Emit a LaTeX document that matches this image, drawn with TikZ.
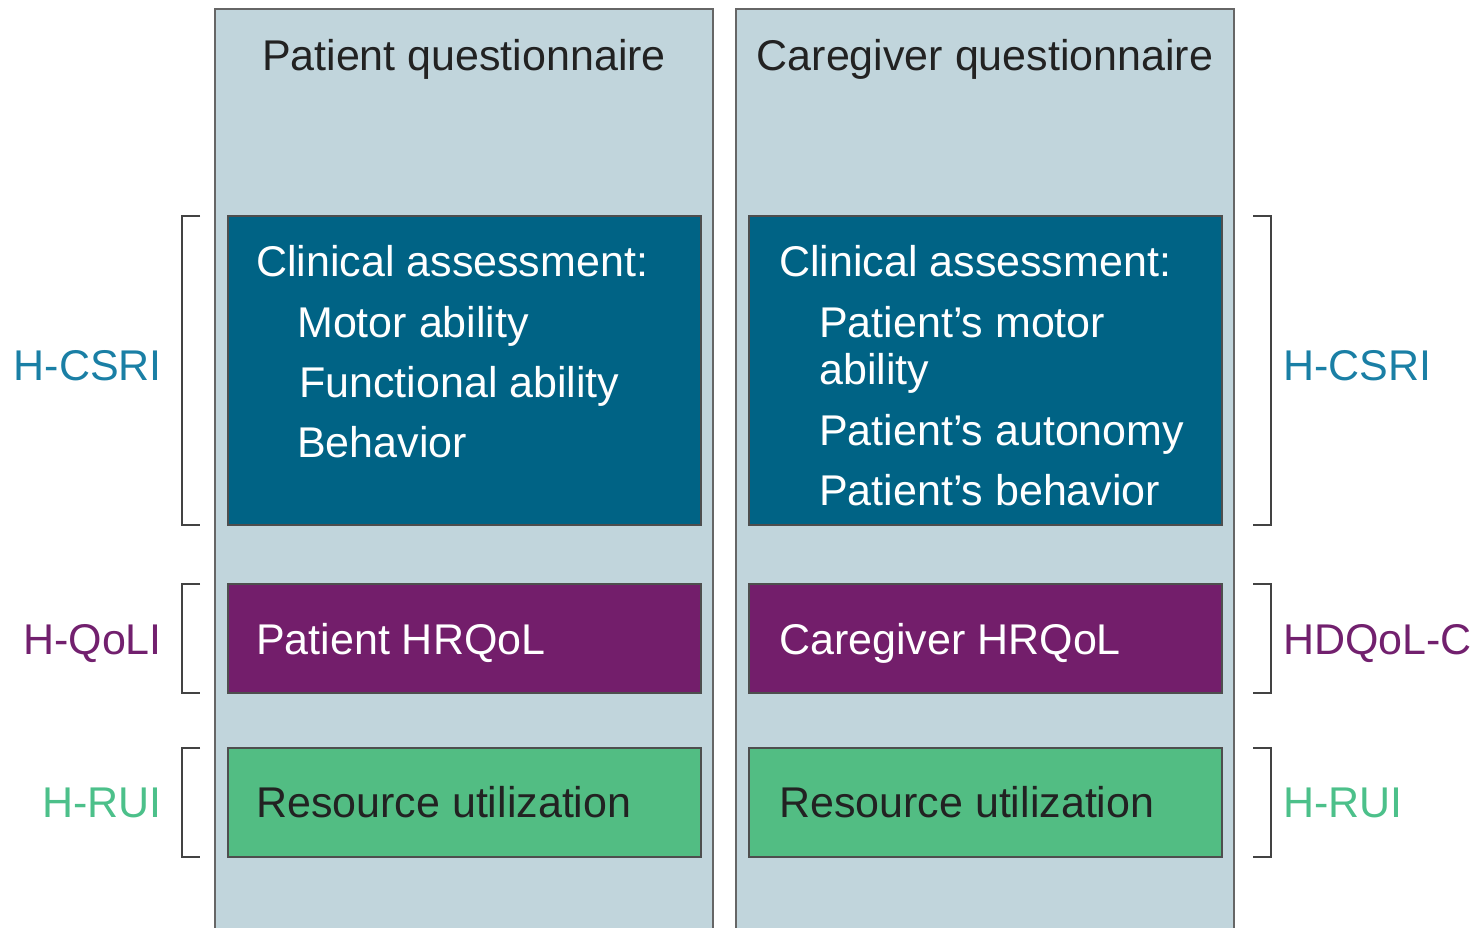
\documentclass[tikz,border=0pt]{standalone}
\usepackage{fontspec}
\setmainfont{Liberation Sans}
\definecolor{colfill}{HTML}{C1D5DC}
\definecolor{colline}{HTML}{666666}
\definecolor{teal}{HTML}{006385}
\definecolor{purp}{HTML}{731E6B}
\definecolor{grn}{HTML}{52BD83}
\definecolor{lteal}{HTML}{1A7FA5}
\definecolor{lpurp}{HTML}{72206E}
\definecolor{lgrn}{HTML}{4CC08A}
\definecolor{ink}{HTML}{222222}
\begin{document}
\begin{tikzpicture}[x=1pt,y=-1pt,
  txt/.style={font=\fontsize{43}{48}\selectfont, inner sep=0pt, anchor=base west},
  rtxt/.style={font=\fontsize{43}{48}\selectfont, inner sep=0pt, anchor=base east},
  boxbase/.style={draw=ink!80, line width=1.6pt, inner sep=0pt, outer sep=0pt, anchor=north west, minimum width=473pt},
  bracket/.style={draw=ink!85, line width=1.6pt}
]
\useasboundingbox (0,0) rectangle (1479,928);
% columns
\path[fill=colfill] (215,940) -- (215,9) -- (713,9) -- (713,940) -- cycle;
\draw[colline, line width=2pt] (215,940) -- (215,9) -- (713,9) -- (713,940);
\path[fill=colfill] (736,940) -- (736,9) -- (1234,9) -- (1234,940) -- cycle;
\draw[colline, line width=2pt] (736,940) -- (736,9) -- (1234,9) -- (1234,940);
\node[txt, anchor=base, text=ink] (tp) at (464,71) {Patient questionnaire};
\node[txt, anchor=base, text=ink] (tc) at (985,71) {Caregiver questionnaire};
% boxes
\node[boxbase, fill=teal, minimum height=309pt] (ca1) at (228,216) {};
\node[boxbase, fill=teal, minimum height=309pt] (ca2) at (749,216) {};
\node[boxbase, fill=purp, minimum height=109pt] (q1) at (228,584) {};
\node[boxbase, fill=purp, minimum height=109pt] (q2) at (749,584) {};
\node[boxbase, fill=grn, minimum height=109pt] (r1) at (228,748) {};
\node[boxbase, fill=grn, minimum height=109pt] (r2) at (749,748) {};
% box texts
\node[txt, text=white] (a1) at (256,276) {Clinical assessment:};
\node[txt, text=white] (a2) at (297,337) {Motor ability};
\node[txt, text=white] (a3) at (299,397) {Functional ability};
\node[txt, text=white] (a4) at (297,457) {Behavior};
\node[txt, text=white] (b1) at (779,276) {Clinical assessment:};
\node[txt, text=white] (b2) at (819,337) {Patient’s motor};
\node[txt, text=white] (b3) at (819,384) {ability};
\node[txt, text=white] (b4) at (819,445) {Patient’s autonomy};
\node[txt, text=white] (b5) at (819,505) {Patient’s behavior};
\node[txt, text=white] (qt1) at (256,654) {Patient HRQoL};
\node[txt, text=white] (qt2) at (779,654) {Caregiver HRQoL};
\node[txt, text=ink] (rt1) at (256,817) {Resource utilization};
\node[txt, text=ink] (rt2) at (779,817) {Resource utilization};
% brackets
\draw[bracket] (200,216) -- (182,216) -- (182,525) -- (200,525);
\draw[bracket] (200,584) -- (182,584) -- (182,693) -- (200,693);
\draw[bracket] (200,748) -- (182,748) -- (182,857) -- (200,857);
\draw[bracket] (1253,216) -- (1271,216) -- (1271,525) -- (1253,525);
\draw[bracket] (1253,584) -- (1271,584) -- (1271,693) -- (1253,693);
\draw[bracket] (1253,748) -- (1271,748) -- (1271,857) -- (1253,857);
% labels
\node[rtxt, text=lteal] (l1) at (162,380) {H-CSRI};
\node[rtxt, text=lpurp] (l2) at (162,654) {H-QoLI};
\node[rtxt, text=lgrn] (l3) at (162,817) {H-RUI};
\node[txt, text=lteal] (m1) at (1283,380) {H-CSRI};
\node[txt, text=lpurp] (m2) at (1283,654) {HDQoL-C};
\node[txt, text=lgrn] (m3) at (1283,817) {H-RUI};
\end{tikzpicture}
\end{document}
